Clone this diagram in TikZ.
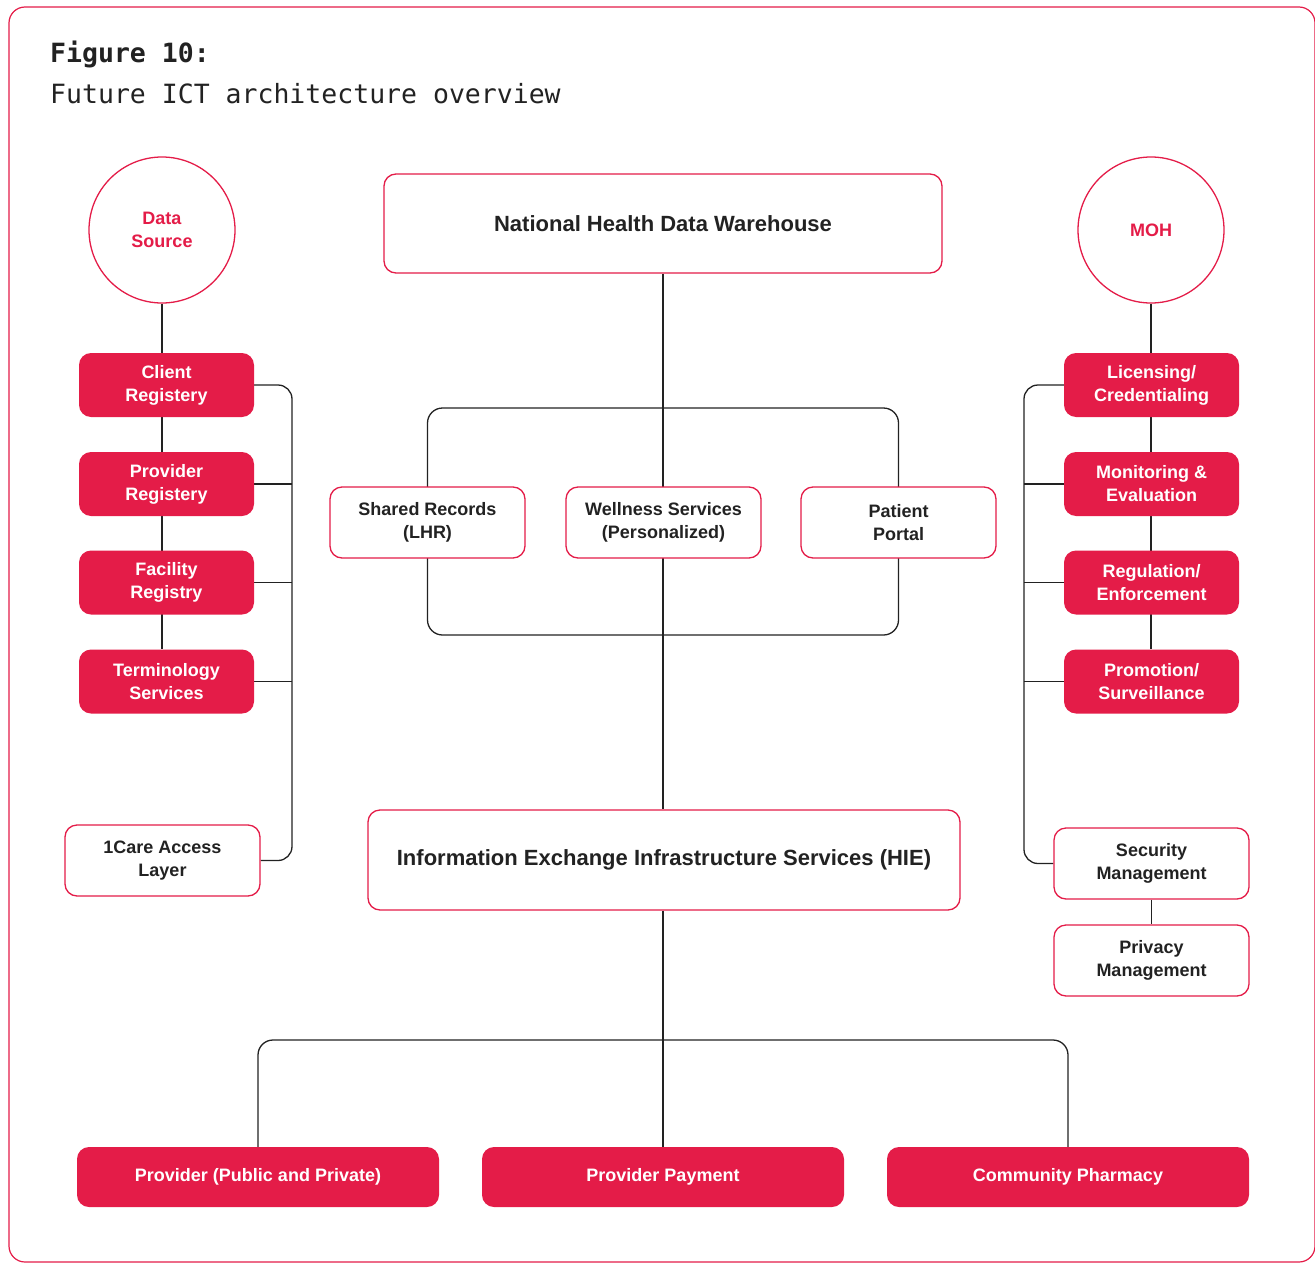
\documentclass[tikz,border=0pt]{standalone}
\usepackage{fontspec}
\setmainfont{Liberation Sans}
\newfontfamily\titlemono{DejaVu Sans Mono}
\usetikzlibrary{backgrounds}
\definecolor{brand}{HTML}{E41C48}
\definecolor{ink}{HTML}{222222}
\tikzset{
  redbox/.style={fill=brand, draw=none, rounded corners=12pt, text=white, align=center,
    inner sep=0pt, font=\fontsize{18}{23}\selectfont\bfseries},
  whitebox/.style={fill=white, draw=brand, line width=1.3pt, rounded corners=12pt, text=ink,
    align=center, inner sep=0pt, font=\fontsize{18}{23}\selectfont\bfseries},
  sidebox/.style={minimum width=175pt, minimum height=64pt},
  circ/.style={circle, draw=brand, line width=1.3pt, fill=white, minimum size=146pt, inner sep=0pt,
    text=brand, align=center, font=\fontsize{18}{23}\selectfont\bfseries},
  conn/.style={draw=ink, line width=1.3pt},
}
\begin{document}
\begin{tikzpicture}[x=1pt,y=-1pt]
\useasboundingbox (0,0) rectangle (1315,1263);
% frame
\draw[brand, line width=1.2pt, rounded corners=16pt] (9,7) rectangle (1315,1262);
% title
\node[anchor=base west, inner sep=0pt, text=ink, font=\titlemono\fontsize{26.5}{30}\selectfont\bfseries] (t1) at (50,63) {Figure 10:};
\node[anchor=base west, inner sep=0pt, text=ink, font=\titlemono\fontsize{26.5}{30}\selectfont] (t2) at (50,103) {Future ICT architecture overview};

% circles
\node[circ] (ds) at (162,230) {Data\\Source};
\node[circ] (moh) at (1151,230) {MOH};

% left column
\node[redbox, sidebox] (client) at (166.5,385) {Client\\Registery};
\node[redbox, sidebox] (provreg) at (166.5,484) {Provider\\Registery};
\node[redbox, sidebox] (facility) at (166.5,582.5) {Facility\\Registry};
\node[redbox, sidebox] (term) at (166.5,681.5) {Terminology\\Services};
\node[whitebox, minimum width=195pt, minimum height=71pt] (care) at (162.5,860.5) {1Care Access\\Layer};

% right column
\node[redbox, sidebox] (lic) at (1151.5,385) {Licensing/\\Credentialing};
\node[redbox, sidebox] (mon) at (1151.5,484) {Monitoring \&\\Evaluation};
\node[redbox, sidebox] (reg) at (1151.5,582.5) {Regulation/\\Enforcement};
\node[redbox, sidebox] (promo) at (1151.5,681.5) {Promotion/\\Surveillance};
\node[whitebox, minimum width=195pt, minimum height=71pt] (sec) at (1151.5,863.5) {Security\\Management};
\node[whitebox, minimum width=195pt, minimum height=71pt] (priv) at (1151.5,960.5) {Privacy\\Management};

% center
\node[whitebox, minimum width=558pt, minimum height=99pt, font=\fontsize{22}{26}\selectfont\bfseries] (nhdw) at (663,223.5) {National Health Data Warehouse};
\node[whitebox, minimum width=195pt, minimum height=71pt] (shared) at (427.5,522.5) {Shared Records\\(LHR)};
\node[whitebox, minimum width=195pt, minimum height=71pt] (well) at (663.5,522.5) {Wellness Services\\(Personalized)};
\node[whitebox, minimum width=195pt, minimum height=71pt] (portal) at (898.5,522.5) {Patient\\Portal};
\node[whitebox, minimum width=592pt, minimum height=100pt, font=\fontsize{22}{26}\selectfont\bfseries] (hie) at (664,860) {Information Exchange Infrastructure Services (HIE)};

% bottom
\node[redbox, minimum width=362pt, minimum height=60pt] (prov) at (258,1177) {Provider (Public and Private)};
\node[redbox, minimum width=362pt, minimum height=60pt] (pay) at (663,1177) {Provider Payment};
\node[redbox, minimum width=362pt, minimum height=60pt] (comm) at (1068,1177) {Community Pharmacy};

\coordinate (lb) at (292,0);
\coordinate (rb) at (1024,0);
\coordinate (ringtop) at (0,408);
\coordinate (ringbot) at (0,635);
\coordinate (busy) at (0,1040);

\begin{scope}[on background layer]
% left spine
\draw[conn] (ds.south) -- (ds.south |- term.north);
\draw[conn, rounded corners=14pt] (client.east) -- (client.east -| lb) -- (care.east -| lb) -- (care.east);
\draw[conn] (provreg.east) -- (provreg.east -| lb);
\draw[conn] (facility.east) -- (facility.east -| lb);
\draw[conn] (term.east) -- (term.east -| lb);
% right spine
\draw[conn] (moh.south) -- (moh.south |- promo.north);
\draw[conn, rounded corners=14pt] (lic.west) -- (lic.west -| rb) -- (sec.west -| rb) -- (sec.west);
\draw[conn] (mon.west) -- (mon.west -| rb);
\draw[conn] (reg.west) -- (reg.west -| rb);
\draw[conn] (promo.west) -- (promo.west -| rb);
\draw[conn] (sec.south) -- (priv.north);
% center
\draw[conn] (nhdw.south) -- (nhdw.south |- hie.north);
\draw[conn, rounded corners=15pt] (shared.center |- ringtop) rectangle (portal.center |- ringbot);
% bottom
\draw[conn] (pay.north |- hie.south) -- (pay.north);
\draw[conn, rounded corners=15pt] (prov.north) -- (prov.north |- busy) -- (comm.north |- busy) -- (comm.north);
\end{scope}
\end{tikzpicture}
\end{document}
